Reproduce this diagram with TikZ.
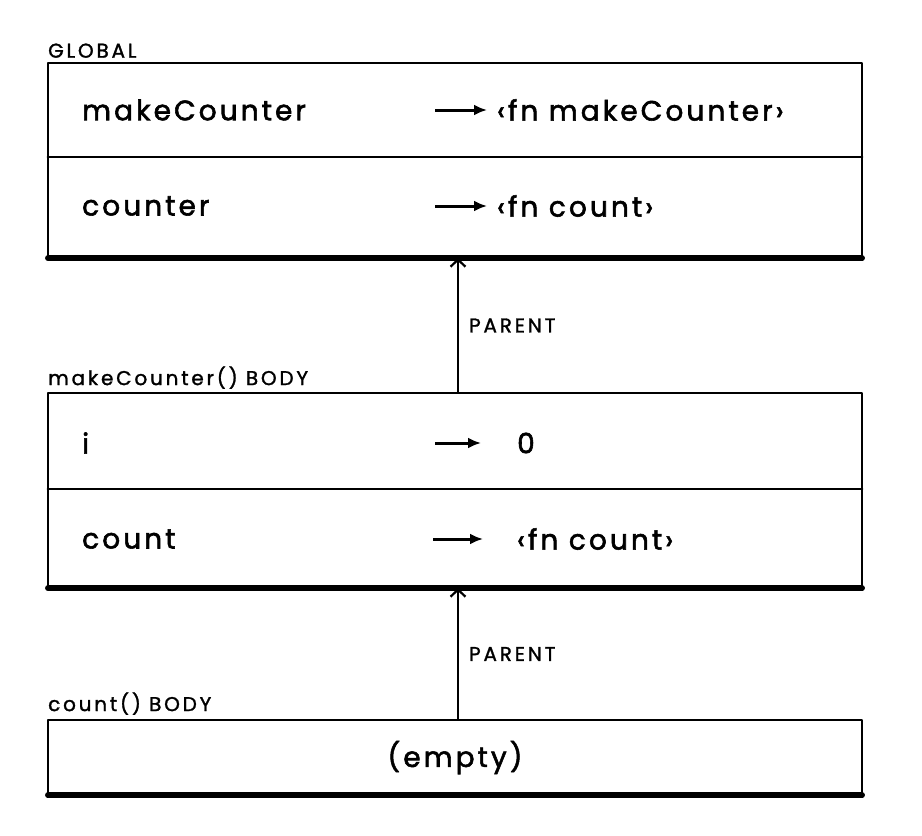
\documentclass[tikz,border=0pt]{standalone}
\usepackage{fontspec}
\setmainfont{Poppins}
\newfontfamily\bigfont[LetterSpace=11,FakeBold=2]{Poppins}
\newfontfamily\smallfont[LetterSpace=14,FakeBold=1.4]{Poppins}
\usetikzlibrary{arrows.meta}
\tikzset{
  x=1pt,y=-1pt,
  frame/.style={draw=none,minimum width=814pt,inner sep=0pt},
  big/.style={font=\bigfont\fontsize{28}{30}\selectfont,inner sep=0pt,anchor=west},
  small/.style={font=\smallfont\fontsize{20}{22}\selectfont,inner sep=0pt,anchor=south west},
  edge/.style={line width=2.4pt,line cap=round,line join=round},
  heavy/.style={line width=5.5pt,line cap=round},
  bind/.style={line width=3pt,-{Latex[length=13pt,width=11pt]}},
  parent/.style={line width=2.2pt,-{Straight Barb[length=7pt,width=15pt]}},
}
\begin{document}
\begin{tikzpicture}
\useasboundingbox (0,0) rectangle (922,836);
% frames
\node[frame,minimum height=195pt] (g) at (455,160.5) {};
\node[frame,minimum height=195pt] (m) at (455,490.5) {};
\node[frame,minimum height=75pt] (c) at (455,757.5) {};
\foreach \b in {g,m,c}{
  \draw[edge] (\b.south west) -- (\b.north west) -- (\b.north east) -- (\b.south east);
  \draw[heavy] (\b.south west) -- (\b.south east);
}
\draw[edge] (g.west |- 0,157) -- (g.east |- 0,157);
\draw[edge] (m.west |- 0,489) -- (m.east |- 0,489);
% titles
\node[small] (tg) at (48,58) {GLOBAL};
\node[small] (tm) at (48,389) {makeCounter() BODY};
\node[small] (tc) at (48,715) {count() BODY};
% global rows
\node[big] (k1) at (82,110) {makeCounter};
\node[big] (v1) at (497,110) {‹fn makeCounter›};
\node[big] (k2) at (82,206) {counter};
\node[big] (v2) at (497,206) {‹fn count›};
% makeCounter rows
\node[big] (k3) at (82,443) {i};
\node[big] (v3) at (517,443) {0};
\node[big] (k4) at (82,539) {count};
\node[big] (v4) at (517,539) {‹fn count›};
% empty
\node[font=\bigfont\fontsize{28}{30}\selectfont,inner sep=0pt] (e) at (c.center) {(empty)};
% binding arrows
\coordinate (a1s) at (435,110); \coordinate (a1e) at (487,110);
\coordinate (a2s) at (435,206); \coordinate (a2e) at (487,206);
\coordinate (a3s) at (435,443); \coordinate (a3e) at (481,443);
\coordinate (a4s) at (433,539); \coordinate (a4e) at (483,539);
\foreach \i in {1,2,3,4}{ \draw[bind] (a\i s) -- (a\i e); }
% parent arrows
\draw[parent] (m.north -| 458,0) -- (g.south -| 458,0) node[pos=0.5,right=10pt,font=\smallfont\fontsize{20}{22}\selectfont,inner sep=0pt] (p1) {PARENT};
\draw[parent] (c.north -| 458,0) -- (m.south -| 458,0) node[pos=0.5,right=10pt,font=\smallfont\fontsize{20}{22}\selectfont,inner sep=0pt] (p2) {PARENT};
\end{tikzpicture}
\end{document}
